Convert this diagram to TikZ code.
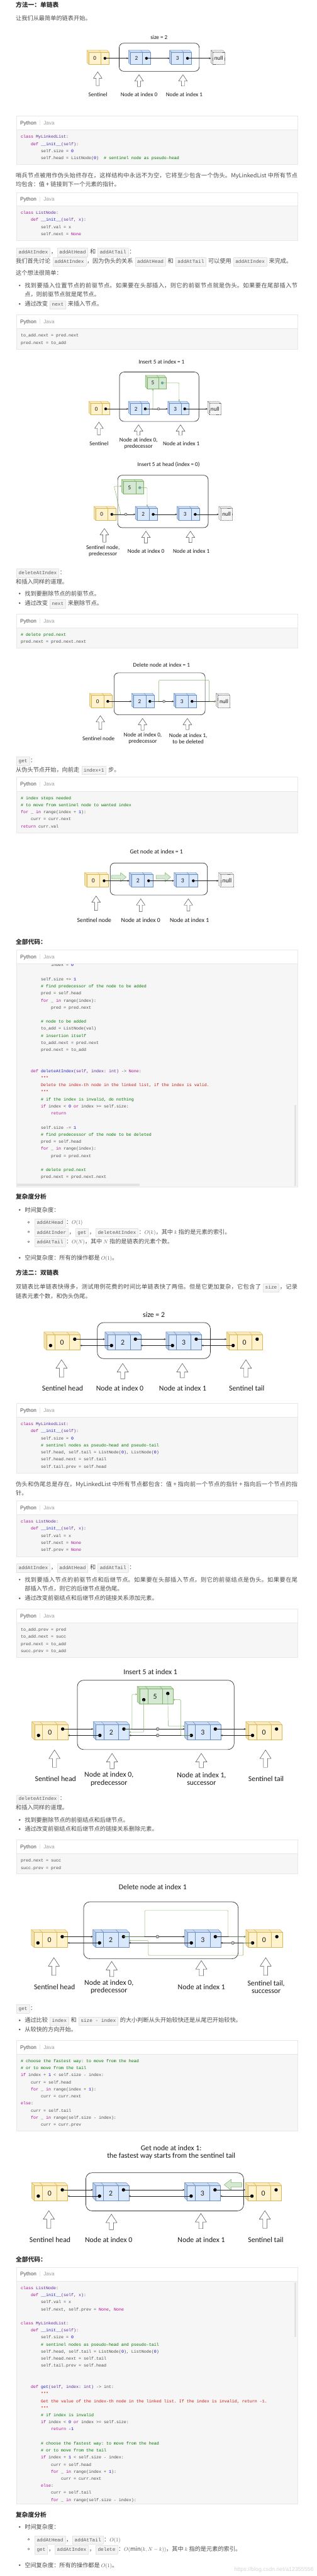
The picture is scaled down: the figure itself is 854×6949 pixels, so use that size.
\documentclass[tikz,border=0pt]{standalone}
\usepackage{fontspec}
\setmainfont{Noto Sans CJK SC}
\setmonofont{Liberation Mono}
\newfontfamily\handfont{Carlito}
\newfontfamily\uifont{Liberation Sans}
\usetikzlibrary{arrows.meta,calc}
\XeTeXlinebreaklocale "zh"
\XeTeXlinebreakskip=0pt plus 3pt
\setlength\fboxsep{3pt}
\setlength\fboxrule{0.6pt}

\definecolor{bodyc}{HTML}{4D4D4D}
\definecolor{headc}{HTML}{2E2E2E}
\definecolor{tabc}{HTML}{4D4D4D}
\definecolor{codebg}{HTML}{F6F6F6}
\definecolor{codeln}{HTML}{E8E8E8}
\definecolor{chipbg}{HTML}{F4F4F4}
\definecolor{chipln}{HTML}{E3E3E3}
\definecolor{chipc}{HTML}{5A5A5A}
\definecolor{codec}{HTML}{4A4A4A}
\definecolor{kwc}{HTML}{A90D91}
\definecolor{clsc}{HTML}{5C2699}
\definecolor{fnc}{HTML}{1F1FC4}
\definecolor{numc}{HTML}{1C00CF}
\definecolor{cmc}{HTML}{007400}
\definecolor{strc}{HTML}{C41A16}
\definecolor{lblc}{HTML}{1A1A1A}
\definecolor{barc}{HTML}{E3E3E3}
\definecolor{dotg}{HTML}{67AB9F}
\definecolor{yelfill}{HTML}{FFF2CC}
\definecolor{yelline}{HTML}{D6B656}
\definecolor{blufill}{HTML}{DAE8FC}
\definecolor{bluline}{HTML}{6C8EBF}
\definecolor{grnfill}{HTML}{D5E8D4}
\definecolor{grnline}{HTML}{82B366}
\definecolor{nulfill}{HTML}{F5F5F5}
\definecolor{nulline}{HTML}{666666}
\colorlet{yeltop}{yelfill!85!yelline}
\colorlet{yelside}{yelfill!68!yelline}
\colorlet{blutop}{blufill!85!bluline}
\colorlet{bluside}{blufill!68!bluline}
\colorlet{grntop}{grnfill!85!grnline}
\colorlet{grnside}{grnfill!68!grnline}
\colorlet{nultop}{nulfill!88!nulline}

\tikzset{
  bodytxt/.style={anchor=base west, inner sep=0pt, text=bodyc, font=\fontsize{15.6}{24}\selectfont},
  headtxt/.style={anchor=base west, inner sep=0pt, text=headc, font=\fontsize{16.5}{24}\selectfont\bfseries},
  codetxt/.style={anchor=base west, inner sep=0pt, text=codec, font=\ttfamily\fontsize{11.3}{19}\selectfont},
  uitxt/.style={anchor=base west, inner sep=0pt, font=\uifont\fontsize{14}{16}\selectfont},
  lbl/.style={inner sep=0pt, align=center, text=lblc, font=\handfont\fontsize{15.5}{16.5}\selectfont},
  valtxt/.style={inner sep=0pt, text=lblc, font=\handfont\fontsize{15.5}{16.5}\selectfont},
  cubeface/.style={anchor=north west, inner sep=0pt, outer sep=0pt, line width=0.8pt},
  lnk/.style={draw=black!85, line width=0.8pt, -{Stealth[length=5pt,width=4.5pt]}},
  glnk/.style={draw=grnline, line width=0.8pt, rounded corners=2pt, -{Stealth[length=5pt,width=4.5pt]}},
  llframe/.style={draw=black!85, line width=1.1pt, rounded corners=12pt},
  hol/.style={draw=black!75, fill=white, line width=0.8pt},
  xc/.style={circle, fill=black!45, draw=black!65, line width=0.5pt, inner sep=0pt},
  blk/.style={fill=grnfill, draw=grnline, line width=0.8pt, line join=round},
}

\newcounter{tn}
\newcommand\dotr{3.8pt}
\newcommand\cby{0}
% syntax colours
\newcommand\ckw[1]{\textcolor{kwc}{#1}}
\newcommand\ccl[1]{\textcolor{clsc}{#1}}
\newcommand\cfn[1]{\textcolor{fnc}{#1}}
\newcommand\cnum[1]{\textcolor{numc}{#1}}
\newcommand\ccom[1]{\textcolor{cmc}{#1}}
\newcommand\cstr[1]{\textcolor{strc}{#1}}
\newcommand\chip[1]{\hspace{2pt}\fcolorbox{chipln}{chipbg}{\hspace{2pt}\rule[-4pt]{0pt}{16pt}{\color{chipc}\ttfamily\fontsize{13.2}{14}\selectfont #1}\hspace{2pt}}\hspace{2pt}}
% a full (justified) line of running text
\newcommand\jl[2]{\parbox[t]{#1pt}{\XeTeXlinebreakskip=0pt plus 4pt\relax #2\linebreak}}
% text lines
\newcommand\txtln[3]{\stepcounter{tn}\node[bodytxt] (t\arabic{tn}) at (#1,{#2+5.9}) {#3};}
\newcommand\headln[2]{\stepcounter{tn}\node[headtxt] (h\arabic{tn}) at (42.5,{#1+6.2}) {#2};}
\newcommand\bulln[2]{\fill[bodyc] (53,#1) circle (2.3pt); \txtln{66.5}{#1}{#2}}
\newcommand\subln[2]{\draw[bodyc, line width=0.7pt] (77.3,#1) circle (2.4pt); \txtln{91.5}{#1}{#2}}
% code boxes
\newcommand\codebg[3]{\fill[codebg] (44,#2) rectangle (803,#3);}
\newcommand\codehdr[3]{%
  \fill[white] (44,#1) rectangle (803,#2);
  \draw[codeln, line width=0.8pt] (44,#2) -- (803,#2);
  \draw[codeln, line width=0.8pt] (44,#1) rectangle (803,#3);
  \stepcounter{tn}\node[uitxt, text=tabc] (p\arabic{tn}) at (54.5,{(#1+#2)/2+5}) {Python};
  \draw[codeln, line width=0.8pt] (107,{(#1+#2)/2-7}) -- (107,{(#1+#2)/2+7});
  \stepcounter{tn}\node[uitxt, text=black!38] (j\arabic{tn}) at (117.3,{(#1+#2)/2+5}) {Java};}
\newcommand\codeln[3]{\stepcounter{tn}\node[codetxt] (c\arabic{tn}) at ({56+#2*6.78},{\cby+#1*19.05+4}) {#3};}
% list cells: name, x, y (front top left), w, h, depth, colour, value, dot colour
\newcommand\snode[9]{%
  \fill[#7side] (#2,#3) -- ++(-#6,-#6) -- ++(0,#5) -- ++(#6,#6) -- cycle;
  \fill[#7top] (#2,#3) -- ++(-#6,-#6) -- ++(#4,0) -- ++(#6,#6) -- cycle;
  \draw[#7line, line width=0.8pt, line join=round] (#2,{#3+#5}) -- ++(-#6,-#6) -- ++(0,-#5) -- ++(#4,0) -- ++(#6,#6);
  \draw[#7line, line width=0.8pt] (#2,#3) -- ++(-#6,-#6) ({#2+0.6*#4},#3) -- ++(-#6,-#6);
  \node[cubeface, draw=#7line, fill=#7fill, minimum width=#4, minimum height=#5] (#1) at (#2,#3) {};
  \draw[#7line, line width=0.8pt] ({#2+0.6*#4},#3) -- ++(0,#5);
  \node[valtxt] (#1-v) at ({#2+0.3*#4},{#3+#5/2}) {#8};
  \coordinate (#1-p) at ({#2+0.8*#4},{#3+#5/2});
  \coordinate (#1-l) at ({#2-#6},{#3+#5/2});
  \fill[#9] (#1-p) circle (\dotr);}
\newcommand\dnode[8]{%
  \fill[#7side] (#2,#3) -- ++(-#6,-#6) -- ++(0,#5) -- ++(#6,#6) -- cycle;
  \fill[#7top] (#2,#3) -- ++(-#6,-#6) -- ++(#4,0) -- ++(#6,#6) -- cycle;
  \draw[#7line, line width=0.8pt, line join=round] (#2,{#3+#5}) -- ++(-#6,-#6) -- ++(0,-#5) -- ++(#4,0) -- ++(#6,#6);
  \draw[#7line, line width=0.8pt] (#2,#3) -- ++(-#6,-#6) ({#2+0.24*#4},#3) -- ++(-#6,-#6) ({#2+0.68*#4},#3) -- ++(-#6,-#6);
  \node[cubeface, draw=#7line, fill=#7fill, minimum width=#4, minimum height=#5] (#1) at (#2,#3) {};
  \draw[#7line, line width=0.8pt] ({#2+0.24*#4},#3) -- ++(0,#5) ({#2+0.68*#4},#3) -- ++(0,#5);
  \node[valtxt] (#1-v) at ({#2+0.46*#4},{#3+0.52*#5}) {#8};
  \coordinate (#1-pv) at ({#2+0.12*#4},{#3+0.71*#5});
  \coordinate (#1-nx) at ({#2+0.84*#4},{#3+0.30*#5});
  \coordinate (#1-l) at ({#2-#6},{#3+#5/2});
  \fill (#1-pv) circle (\dotr);
  \fill (#1-nx) circle (\dotr);}
\newcommand\nnode[6]{%
  \fill[nultop] (#2,#3) -- ++(-#6,-#6) -- ++(0,#5) -- ++(#6,#6) -- cycle;
  \fill[nultop] (#2,#3) -- ++(-#6,-#6) -- ++(#4,0) -- ++(#6,#6) -- cycle;
  \draw[nulline, dash pattern=on 2pt off 1.5pt, line width=0.7pt] (#2,{#3+#5}) -- ++(-#6,-#6) -- ++(0,-#5) -- ++(#4,0) -- ++(#6,#6) (#2,#3) -- ++(-#6,-#6);
  \node[cubeface, draw=nulline, fill=nulfill, dash pattern=on 2pt off 1.5pt, line width=0.7pt, minimum width=#4, minimum height=#5] (#1) at (#2,#3) {};
  \node[valtxt] (#1-v) at ({#2+#4/2},{#3+#5/2}) {null};
  \coordinate (#1-l) at ({#2-#6},{#3+#5/2});}
\newcommand\slinks[4]{\draw[lnk] (#1-p) -- (#2-l); \draw[lnk] (#2-p) -- (#3-l); \draw[lnk] (#3-p) -- (#4-l);}
\newcommand\dlinks[4]{%
  \draw[lnk] (#1-nx) -- (#1-nx -| #2-l);
  \draw[lnk] (#2-nx) -- (#2-nx -| #3-l);
  \draw[lnk] (#3-nx) -- (#3-nx -| #4-l);
  \draw[lnk] (#2-pv) -- (#2-pv -| #1.east);
  \draw[lnk] (#3-pv) -- (#3-pv -| #2.east);
  \draw[lnk] (#4-pv) -- (#4-pv -| #3.east);}
% hollow pointer arrows
\newcommand\hol[3]{\draw[hol] (#1,#2) -- ++(11.6,17) -- ++(-7.5,0) -- ({#1+4.1},#3) -- ({#1-4.1},#3) -- ({#1-4.1},{#2+17}) -- ({#1-11.6},{#2+17}) -- cycle;}
\newcommand\holb[3]{\draw[hol] (#1,#2) -- ++(15,23) -- ++(-9.5,0) -- ({#1+5.5},#3) -- ({#1-5.5},#3) -- ({#1-5.5},{#2+23}) -- ({#1-15},{#2+23}) -- cycle;}
\newcommand\xcirc[4]{\node[xc, minimum size=#4] (#1) at (#2,#3) {};
  \draw[white, line width=0.8pt] ({#2-0.2*#4},{#3-0.2*#4}) -- ({#2+0.2*#4},{#3+0.2*#4}) ({#2-0.2*#4},{#3+0.2*#4}) -- ({#2+0.2*#4},{#3-0.2*#4});}
\newcommand\blockR[4]{\filldraw[blk] (#1,{#3+0.29*(#4-#3)}) -- ({#2-0.38*(#2-#1)},{#3+0.29*(#4-#3)}) -- ({#2-0.38*(#2-#1)},#3) -- (#2,{(#3+#4)/2}) -- ({#2-0.38*(#2-#1)},#4) -- ({#2-0.38*(#2-#1)},{#4-0.29*(#4-#3)}) -- (#1,{#4-0.29*(#4-#3)}) -- cycle;}
\newcommand\blockL[4]{\filldraw[blk] (#2,{#3+0.31*(#4-#3)}) -- ({#1+0.4*(#2-#1)},{#3+0.31*(#4-#3)}) -- ({#1+0.4*(#2-#1)},#3) -- (#1,{(#3+#4)/2}) -- ({#1+0.4*(#2-#1)},#4) -- ({#1+0.4*(#2-#1)},{#4-0.31*(#4-#3)}) -- (#2,{#4-0.31*(#4-#3)}) -- cycle;}

\begin{document}
\begin{tikzpicture}[x=1pt,y=-1pt]
\useasboundingbox (0,0) rectangle (854,6949);
\fill[white] (0,0) rectangle (854,6949);

%% method one
\headln{13.7}{方法一：单链表}
\txtln{42.5}{50}{让我们从最简单的链表开始。}

% size = 2
\node[lbl] (d1t) at (429,100) {size = 2};
\draw[llframe] (321.5,116.5) rectangle (537.5,192.3);
\snode{d1s}{239.5}{140.5}{54.5}{33.5}{5}{yel}{0}{black}
\snode{d1a}{351.5}{140.5}{54.5}{33.5}{5}{blu}{2}{black}
\snode{d1b}{462.5}{140.5}{54}{33.5}{5}{blu}{3}{black}
\nnode{d1n}{574}{140.5}{32}{33.5}{5}
\slinks{d1s}{d1a}{d1b}{d1n}
\hol{263.6}{194}{231} \hol{375}{201.6}{234} \hol{493.4}{201.6}{232}
\node[lbl] (d1l0) at (264,255) {Sentinel};
\node[lbl] (d1l1) at (375,255) {Node at index 0};
\node[lbl] (d1l2) at (497,255) {Node at index 1};

\renewcommand\cby{369}
\codebg{312.6}{350}{443}
\codeln{0}{0}{\ckw{class} \ccl{MyLinkedList}:}
\codeln{1}{4}{\ckw{def} \cfn{\_\_init\_\_}\ccl{(self)}:}
\codeln{2}{8}{self.size = \cnum{0}}
\codeln{3}{8}{self.head = ListNode(\cnum{0})~~\ccom{\# sentinel node as pseudo-head}}
\codehdr{312.6}{350}{443}

\txtln{42.5}{473}{\jl{760}{哨兵节点被用作伪头始终存在，这样结构中永远不为空，它将至少包含一个伪头。MyLinkedList 中所有节点}}
\txtln{42.5}{497.6}{均包含：值 + 链接到下一个元素的指针。}

\renewcommand\cby{574}
\codebg{518.7}{556}{649}
\codeln{0}{0}{\ckw{class} \ccl{ListNode}:}
\codeln{1}{4}{\ckw{def} \cfn{\_\_init\_\_}\ccl{(self, x)}:}
\codeln{2}{8}{self.val = x}
\codeln{3}{8}{self.next = \ckw{None}}
\codehdr{518.7}{556}{649}

\txtln{42.5}{678.8}{\chip{addAtIndex}，\chip{addAtHead} 和 \chip{addAtTail}：}
\txtln{42.5}{704}{我们首先讨论 \chip{addAtIndex}，因为伪头的关系 \chip{addAtHead} 和 \chip{addAtTail} 可以使用 \chip{addAtIndex} 来完成。}
\txtln{42.5}{736.5}{这个想法很简单：}
\bulln{770}{\jl{736}{找到要插入位置节点的前驱节点。如果要在头部插入，则它的前驱节点就是伪头。如果要在尾部插入节}}
\txtln{66.5}{794.6}{点，则前驱节点就是尾节点。}
\bulln{820}{通过改变 \chip{next} 来插入节点。}

\renewcommand\cby{905}
\codebg{849}{886}{941.5}
\codeln{0}{0}{to\_add.next = pred.next}
\codeln{1}{0}{pred.next = to\_add}
\codehdr{849}{886}{941.5}

% insert at index 1
\node[lbl] (d2t) at (435.7,976) {Insert 5 at index = 1};
\draw[llframe] (322.4,1003.6) rectangle (536.5,1136.8);
\snode{d2g}{397}{1017.5}{51}{31}{5}{grn}{5}{dotg}
\snode{d2s}{244.6}{1087.5}{50.6}{31}{5}{yel}{0}{black}
\snode{d2a}{351.4}{1087.5}{50.6}{31}{5}{blu}{2}{black}
\snode{d2b}{457.6}{1087.5}{51}{31}{5}{blu}{3}{black}
\nnode{d2n}{565}{1087.5}{30}{31}{5}
\slinks{d2s}{d2a}{d2b}{d2n}
\draw[glnk] (d2a-p) -| (d2g-v |- d2g.south);
\draw[glnk] (d2g-p) -| ($(d2b.north)+(0,-5)$);
\xcirc{d2x}{427.5}{1103}{7}
\hol{266.9}{1138.7}{1173} \hol{373.6}{1146}{1174} \hol{486.9}{1146}{1174}
\node[lbl] (d2l0) at (267,1197) {Sentinel};
\node[lbl] (d2l1) at (373.6,1196.5) {Node at index 0,\\predecessor};
\node[lbl] (d2l2) at (489,1197) {Node at index 1};

% insert at head
\node[lbl] (d3t) at (454.7,1254) {Insert 5 at head (index = 0)};
\draw[llframe] (317.5,1282) rectangle (561.5,1423.4);
\snode{d3g}{333}{1298.5}{55}{34}{5}{grn}{5}{dotg}
\snode{d3s}{258.2}{1371}{54.4}{33}{5}{yel}{0}{black}
\snode{d3a}{370}{1371}{54}{33}{5}{blu}{2}{black}
\snode{d3b}{482.6}{1371}{55}{33}{5}{blu}{3}{black}
\nnode{d3n}{595}{1371}{32}{33}{5}
\slinks{d3s}{d3a}{d3b}{d3n}
\coordinate (d3k1) at (325.7,1387.5);
\coordinate (d3k2) at (307.7,1311.5);
\draw[glnk] (d3s-p) -- (d3k1) -- (d3k2) -- (d3k2 -| d3g-l);
\draw[glnk] (d3g-p) -| ($(d3a.north)+(0,-5)$);
\xcirc{d3x}{339.3}{1387.5}{7}
\hol{281.6}{1425.7}{1462.7} \hol{393.7}{1433}{1465.3} \hol{513.6}{1433}{1463.4}
\node[lbl] (d3l0) at (277.7,1486.5) {Sentinel node,\\predecessor};
\node[lbl] (d3l1) at (393.7,1486.7) {Node at index 0};
\node[lbl] (d3l2) at (516,1486.7) {Node at index 1};

\txtln{42.5}{1544}{\chip{deleteAtIndex}：}
\txtln{42.5}{1569}{和插入同样的道理。}
\bulln{1601}{找到要删除节点的前驱节点。}
\bulln{1627}{通过改变 \chip{next} 来删除节点。}

\renewcommand\cby{1712}
\codebg{1656}{1693.5}{1748}
\codeln{0}{0}{\ccom{\# delete pred.next}}
\codeln{1}{0}{pred.next = pred.next.next}
\codehdr{1656}{1693.5}{1748}

% delete at index 1
\node[lbl] (d4t) at (435.7,1793) {Delete node at index = 1};
\draw[llframe] (307.7,1815) rectangle (553.3,1928.3);
\snode{d4s}{246.8}{1875}{55}{34}{5}{yel}{0}{black}
\snode{d4a}{360}{1875}{55.5}{34}{5}{blu}{2}{black}
\snode{d4b}{474}{1875}{55}{34}{5}{blu}{3}{black}
\nnode{d4n}{588}{1875}{32}{34}{5}
\slinks{d4s}{d4a}{d4b}{d4n}
\coordinate (d4k1) at (428.6,1834.4);
\coordinate (d4k2) at (563.7,1834.4);
\draw[glnk] (d4a-p) -| (d4k1) -- (d4k2) |- (d4n-l);
\xcirc{d4x}{442.2}{1892}{7}
\hol{270.7}{1930.5}{1967.5} \hol{384.5}{1938}{1970} \hol{505.4}{1938}{1968}
\node[lbl] (d4l0) at (265.8,1992) {Sentinel node};
\node[lbl] (d4l1) at (385,1992) {Node at index 0,\\predecessor};
\node[lbl] (d4l2) at (507.6,1992) {Node at index 1,\\to be deleted};

\txtln{42.5}{2051}{\chip{get}：}
\txtln{42.5}{2076}{从伪头节点开始，向前走 \chip{index+1} 步。}

\renewcommand\cby{2152.6}
\codebg{2096}{2134.4}{2247}
\codeln{0}{0}{\ccom{\# index steps needed}}
\codeln{1}{0}{\ccom{\# to move from sentinel node to wanted index}}
\codeln{2}{0}{\ckw{for} \_ \ckw{in} range(index + \cnum{1}):}
\codeln{3}{4}{curr = curr.next}
\codeln{4}{0}{\ckw{return} curr.val}
\codehdr{2096}{2134.4}{2247}

% get at index 1
\begin{scope}[lbl/.style={inner sep=0pt, align=center, text=lblc, font=\handfont\fontsize{16.5}{17.5}\selectfont},
  valtxt/.style={inner sep=0pt, text=lblc, font=\handfont\fontsize{16.5}{17.5}\selectfont}]
\node[lbl] (d5t) at (422,2297) {Get node at index = 1};
\draw[llframe] (297.4,2328) rectangle (559.3,2414.3);
\snode{d5s}{234}{2359}{58.5}{34}{5.5}{yel}{0}{black}
\snode{d5a}{354.5}{2359}{58}{34}{5.5}{blu}{2}{black}
\snode{d5b}{475}{2359}{58}{34}{5.5}{blu}{3}{black}
\nnode{d5n}{595}{2359}{35}{34}{5.5}
\blockR{300.6}{340.4}{2354}{2378.5}
\blockR{421}{460.2}{2354}{2378.5}
\slinks{d5s}{d5a}{d5b}{d5n}
\hol{259.2}{2417}{2456} \hol{379.6}{2424.7}{2459} \hol{508}{2424.7}{2457}
\node[lbl] (d5l0) at (254.3,2482) {Sentinel node};
\node[lbl] (d5l1) at (379.6,2482) {Node at index 0};
\node[lbl] (d5l2) at (511,2482) {Node at index 1};
\end{scope}

\headln{2541}{全部代码：}

\renewcommand\cby{2603.3}
\codebg{2562}{2600}{3201.5}
\codeln{0}{12}{index = \cnum{0}}
\codeln{2}{8}{self.size += \cnum{1}}
\codeln{3}{8}{\ccom{\# find predecessor of the node to be added}}
\codeln{4}{8}{pred = self.head}
\codeln{5}{8}{\ckw{for} \_ \ckw{in} range(index):}
\codeln{6}{12}{pred = pred.next}
\codeln{8}{8}{\ccom{\# node to be added}}
\codeln{9}{8}{to\_add = ListNode(val)}
\codeln{10}{8}{\ccom{\# insertion itself}}
\codeln{11}{8}{to\_add.next = pred.next}
\codeln{12}{8}{pred.next = to\_add}
\codeln{15}{4}{\ckw{def} \cfn{deleteAtIndex}\ccl{(self, index: int)} -> \ckw{None}:}
\codeln{16}{8}{\cstr{"""}}
\codeln{17}{8}{\cstr{Delete the index-th node in the linked list, if the index is valid.}}
\codeln{18}{8}{\cstr{"""}}
\codeln{19}{8}{\ccom{\# if the index is invalid, do nothing}}
\codeln{20}{8}{\ckw{if} index < \cnum{0} \ckw{or} index >= self.size:}
\codeln{21}{12}{\ckw{return}}
\codeln{23}{8}{self.size -= \cnum{1}}
\codeln{24}{8}{\ccom{\# find predecessor of the node to be deleted}}
\codeln{25}{8}{pred = self.head}
\codeln{26}{8}{\ckw{for} \_ \ckw{in} range(index):}
\codeln{27}{12}{pred = pred.next}
\codeln{29}{8}{\ccom{\# delete pred.next}}
\codeln{30}{8}{pred.next = pred.next.next}
\fill[barc] (794,2980.7) rectangle (799.5,3199);
\fill[barc] (45.7,3193) rectangle (375.8,3199);
\codehdr{2562}{2600}{3201.5}

\headln{3229}{复杂度分析}
\bulln{3263.7}{时间复杂度：}
\subln{3297}{\chip{addAtHead}：$O(1)$}
\subln{3323}{\chip{addAtInder}，\chip{get}，\chip{deleteAtIndex}：$O(k)$，其中 $k$ 指的是元素的索引。}
\subln{3349.6}{\chip{addAtTail}：$O(N)$，其中 $N$ 指的是链表的元素个数。}
\bulln{3393}{空间复杂度：所有的操作都是 $O(1)$。}

%% method two
\headln{3434}{方法二：双链表}
\txtln{42.5}{3471.7}{\jl{760}{双链表比单链表快得多，测试用例花费的时间比单链表快了两倍。但是它更加复杂，它包含了 \chip{size}，记录}}
\txtln{42.5}{3496.6}{链表元素个数，和伪头伪尾。}

\begin{scope}[lbl/.style={inner sep=0pt, align=center, text=lblc, font=\handfont\fontsize{20}{21}\selectfont},
  valtxt/.style={inner sep=0pt, text=lblc, font=\handfont\fontsize{20}{21}\selectfont},
  llframe/.style={draw=black!80, line width=1.2pt, rounded corners=17pt}]
\renewcommand\dotr{4.6pt}

% size = 2, doubly linked
\node[lbl] (d6t) at (415,3547) {size = 2};
\draw[llframe] (262.5,3567.7) rectangle (567.5,3665);
\dnode{d6h}{125.5}{3600}{90.7}{41.7}{7}{yel}{0}
\dnode{d6a}{290}{3600}{89.6}{41.7}{7}{blu}{2}
\dnode{d6b}{454.5}{3600}{89}{41.7}{7}{blu}{3}
\dnode{d6t}{618}{3600}{90}{41.7}{7}{yel}{0}
\dlinks{d6h}{d6a}{d6b}{d6t}
\holb{166}{3668}{3715} \holb{331}{3678}{3719.4} \holb{491.8}{3678}{3717} \holb{663.3}{3668}{3715}
\node[lbl] (d6l0) at (168.8,3745.7) {Sentinel head};
\node[lbl] (d6l1) at (323,3745.7) {Node at index 0};
\node[lbl] (d6l2) at (493,3745.7) {Node at index 1};
\node[lbl] (d6l3) at (665.5,3745.7) {Sentinel tail};

% insert at index 1, doubly linked
\node[lbl] (d7t) at (405.7,4510.7) {Insert 5 at index 1};
\draw[llframe] (208.6,4532.5) rectangle (631.7,4719.5);
\dnode{d7g}{377}{4556}{90}{41}{7}{grn}{5}
\dnode{d7h}{93}{4651.5}{90.5}{42}{7}{yel}{0}
\dnode{d7a}{258.6}{4651.5}{90}{42}{7}{blu}{2}
\dnode{d7b}{505.3}{4651.5}{90}{42}{7}{blu}{3}
\dnode{d7t}{670.3}{4651.5}{90}{42}{7}{yel}{0}
\dlinks{d7h}{d7a}{d7b}{d7t}
\coordinate (d7k1) at (356,4570.6);
\coordinate (d7k2) at (453.6,4656.6);
\coordinate (d7k3) at (487.4,4585.1);
\draw[glnk] (d7a-nx) -| (d7k1) -- (d7k1 -| d7g-l);
\draw[glnk] (d7g-pv) |- (d7a.east);
\draw[glnk] (d7g-nx) -- (d7k2) -- (d7k2 -| d7b-l);
\draw[glnk] (d7b-pv) -| (d7k3) -- (d7g-pv -| d7g.east);
\xcirc{d7x1}{425.3}{4664.1}{8.5}
\xcirc{d7x2}{425.3}{4681.3}{8.5}
\holb{147}{4720.7}{4767.6} \holb{302.3}{4730}{4771.4} \holb{543}{4730}{4768.8} \holb{716.2}{4720.7}{4767.6}
\node[lbl] (d7l0) at (149.8,4799) {Sentinel head};
\node[lbl] (d7l1) at (294,4799) {Node at index 0,\\predecessor};
\node[lbl] (d7l2) at (543.5,4799) {Node at index 1,\\successor};
\node[lbl] (d7l3) at (717.8,4799) {Sentinel tail};
\end{scope}

\renewcommand\cby{3841.5}
\codebg{3785.6}{3823}{3973.6}
\codeln{0}{0}{\ckw{class} \ccl{MyLinkedList}:}
\codeln{1}{4}{\ckw{def} \cfn{\_\_init\_\_}\ccl{(self)}:}
\codeln{2}{8}{self.size = \cnum{0}}
\codeln{3}{8}{\ccom{\# sentinel nodes as pseudo-head and pseudo-tail}}
\codeln{4}{8}{self.head, self.tail = ListNode(\cnum{0}), ListNode(\cnum{0})}
\codeln{5}{8}{self.head.next = self.tail}
\codeln{6}{8}{self.tail.prev = self.head}
\codehdr{3785.6}{3823}{3973.6}

\txtln{42.5}{4003}{\jl{760}{伪头和伪尾总是存在，MyLinkedList 中所有节点都包含：值 + 指向前一个节点的指针 + 指向后一个节点的指}}
\txtln{42.5}{4027.6}{针。}

\renewcommand\cby{4104.4}
\codebg{4048.7}{4086}{4198.7}
\codeln{0}{0}{\ckw{class} \ccl{ListNode}:}
\codeln{1}{4}{\ckw{def} \cfn{\_\_init\_\_}\ccl{(self, x)}:}
\codeln{2}{8}{self.val = x}
\codeln{3}{8}{self.next = \ckw{None}}
\codeln{4}{8}{self.prev = \ckw{None}}
\codehdr{4048.7}{4086}{4198.7}

\txtln{42.5}{4228}{\chip{addAtIndex}，\chip{addAtHead} 和 \chip{addAtTail}：}
\bulln{4261}{\jl{736}{找到要插入节点的前驱节点和后继节点。如果要在头部插入节点，则它的前驱结点是伪头。如果要在尾}}
\txtln{66.5}{4285.7}{部插入节点，则它的后继节点是伪尾。}
\bulln{4311.6}{通过改变前驱结点和后继节点的链接关系添加元素。}

\renewcommand\cby{4396}
\codebg{4340}{4377.5}{4470}
\codeln{0}{0}{to\_add.prev = pred}
\codeln{1}{0}{to\_add.next = succ}
\codeln{2}{0}{pred.next = to\_add}
\codeln{3}{0}{succ.prev = to\_add}
\codehdr{4340}{4377.5}{4470}

\txtln{42.5}{4851}{\chip{deleteAtIndex}：}
\txtln{42.5}{4875.7}{和插入同样的道理。}
\bulln{4909.4}{找到要删除节点的前驱结点和后继节点。}
\bulln{4934}{通过改变前驱结点和后继节点的链接关系删除元素。}

\renewcommand\cby{5019}
\codebg{4962.6}{5000}{5055}
\codeln{0}{0}{pred.next = succ}
\codeln{1}{0}{succ.prev = pred}
\codehdr{4962.6}{5000}{5055}

\begin{scope}[lbl/.style={inner sep=0pt, align=center, text=lblc, font=\handfont\fontsize{20}{21}\selectfont},
  valtxt/.style={inner sep=0pt, text=lblc, font=\handfont\fontsize{20}{21}\selectfont},
  llframe/.style={draw=black!80, line width=1.2pt, rounded corners=17pt}]
\renewcommand\dotr{4.6pt}

% delete at index 1, doubly linked
\node[lbl] (d8t) at (412,5090.7) {Delete node at index 1};
\draw[llframe] (225.5,5130.2) rectangle (642.6,5284);
\dnode{d8h}{91.4}{5212}{91}{41}{7}{yel}{0}
\dnode{d8a}{257.5}{5212}{90}{41}{7}{blu}{2}
\dnode{d8b}{505.3}{5212}{90}{41}{7}{blu}{3}
\dnode{d8t}{670.3}{5212}{91}{41}{7}{yel}{0}
\dlinks{d8h}{d8a}{d8b}{d8t}
\coordinate (d8k1) at (390.5,5153.6);
\coordinate (d8k2) at (615.4,5224.3);
\coordinate (d8k3) at (656,5274.8);
\coordinate (d8k4) at (400.3,5234.8);
\draw[glnk] (d8a-nx) -| (d8k1) -| (d8k2) -- (d8k2 -| d8t-l);
\draw[glnk] (d8t-pv) -| (d8k3) -| (d8k4) -- (d8k4 -| d8a.east);
\xcirc{d8x1}{424.8}{5224.3}{8.5}
\xcirc{d8x2}{628}{5241.1}{8.5}
\holb{145.4}{5281}{5328.4} \holb{301.2}{5291}{5332} \holb{543}{5289}{5330} \holb{716.7}{5281}{5328.4}
\node[lbl] (d8l0) at (147,5360) {Sentinel head};
\node[lbl] (d8l1) at (294,5360) {Node at index 0,\\predecessor};
\node[lbl] (d8l2) at (543.5,5360) {Node at index 1};
\node[lbl] (d8l3) at (717.8,5360) {Sentinel tail,\\successor};

% get from the tail
\node[lbl] (d9t) at (461.8,5794.6) {Get node at index 1:};
\node[lbl] (d9u) at (461.8,5816.7) {the fastest way starts from the sentinel tail};
\draw[llframe] (231.5,5861) rectangle (657.3,5964);
\dnode{d9h}{92.5}{5895}{90}{41}{7}{yel}{0}
\dnode{d9a}{257.5}{5895}{90}{41}{7}{blu}{2}
\dnode{d9b}{504.8}{5895}{89.5}{41}{7}{blu}{3}
\dnode{d9t}{668.7}{5895}{90.5}{41}{7}{yel}{0}
\blockL{604.5}{652.4}{5878.8}{5908.4}
\dlinks{d9h}{d9a}{d9b}{d9t}
\holb{131.8}{5963.5}{6011} \holb{300.6}{5972.8}{6014.6} \holb{541.9}{5971}{6012} \holb{714.5}{5963.5}{6011}
\node[lbl] (d9l0) at (135,6042.4) {Sentinel head};
\node[lbl] (d9l1) at (293,6042.4) {Node at index 0};
\node[lbl] (d9l2) at (543,6042.4) {Node at index 1};
\node[lbl] (d9l3) at (716.7,6042.4) {Sentinel tail};
\end{scope}

\txtln{42.5}{5417}{\chip{get}：}
\bulln{5450}{通过比较 \chip{index} 和 \chip{size - index} 的大小判断从头开始较快还是从尾巴开始较快。}
\bulln{5474.6}{从较快的方向开始。}

\renewcommand\cby{5559.7}
\codebg{5503.8}{5541}{5748}
\codeln{0}{0}{\ccom{\# choose the fastest way: to move from the head}}
\codeln{1}{0}{\ccom{\# or to move from the tail}}
\codeln{2}{0}{\ckw{if} index + \cnum{1} < self.size - index:}
\codeln{3}{4}{curr = self.head}
\codeln{4}{4}{\ckw{for} \_ \ckw{in} range(index + \cnum{1}):}
\codeln{5}{8}{curr = curr.next}
\codeln{6}{0}{\ckw{else}:}
\codeln{7}{4}{curr = self.tail}
\codeln{8}{4}{\ckw{for} \_ \ckw{in} range(self.size - index):}
\codeln{9}{8}{curr = curr.prev}
\codehdr{5503.8}{5541}{5748}

\headln{6094.5}{全部代码：}

\renewcommand\cby{6171.9}
\codebg{6115.6}{6153}{6754.5}
\codeln{0}{0}{\ckw{class} \ccl{ListNode}:}
\codeln{1}{4}{\ckw{def} \cfn{\_\_init\_\_}\ccl{(self, x)}:}
\codeln{2}{8}{self.val = x}
\codeln{3}{8}{self.next, self.prev = \ckw{None}, \ckw{None}}
\codeln{5}{0}{\ckw{class} \ccl{MyLinkedList}:}
\codeln{6}{4}{\ckw{def} \cfn{\_\_init\_\_}\ccl{(self)}:}
\codeln{7}{8}{self.size = \cnum{0}}
\codeln{8}{8}{\ccom{\# sentinel nodes as pseudo-head and pseudo-tail}}
\codeln{9}{8}{self.head, self.tail = ListNode(\cnum{0}), ListNode(\cnum{0})}
\codeln{10}{8}{self.head.next = self.tail}
\codeln{11}{8}{self.tail.prev = self.head}
\codeln{14}{4}{\ckw{def} \cfn{get}\ccl{(self, index: int)} -> int:}
\codeln{15}{8}{\cstr{"""}}
\codeln{16}{8}{\cstr{Get the value of the index-th node in the linked list. If the index is invalid, return -1.}}
\codeln{17}{8}{\cstr{"""}}
\codeln{18}{8}{\ccom{\# if index is invalid}}
\codeln{19}{8}{\ckw{if} index < \cnum{0} \ckw{or} index >= self.size:}
\codeln{20}{12}{\ckw{return} \cnum{-1}}
\codeln{22}{8}{\ccom{\# choose the fastest way: to move from the head}}
\codeln{23}{8}{\ccom{\# or to move from the tail}}
\codeln{24}{8}{\ckw{if} index + \cnum{1} < self.size - index:}
\codeln{25}{12}{curr = self.head}
\codeln{26}{12}{\ckw{for} \_ \ckw{in} range(index + \cnum{1}):}
\codeln{27}{16}{curr = curr.next}
\codeln{28}{8}{\ckw{else}:}
\codeln{29}{12}{curr = self.tail}
\codeln{30}{12}{\ckw{for} \_ \ckw{in} range(self.size - index):}
\fill[barc] (794,6156) rectangle (799.5,6304);
\codehdr{6115.6}{6153}{6754.5}

\headln{6783.5}{复杂度分析}
\bulln{6816.6}{时间复杂度：}
\subln{6850}{\chip{addAtHead}，\chip{addAtTail}：$O(1)$}
\subln{6876}{\chip{get}，\chip{addAtIndex}，\chip{delete}：$O(\min(k,N-k))$，其中 $k$ 指的是元素的索引。}
\bulln{6919.6}{空间复杂度：所有的操作都是 $O(1)$。}

\node[anchor=base east, inner sep=0pt, text=black!16, font=\uifont\fontsize{15}{16}\selectfont] (wm) at (846,6937) {https://blog.csdn.net/a12355556};
\end{tikzpicture}
\end{document}
